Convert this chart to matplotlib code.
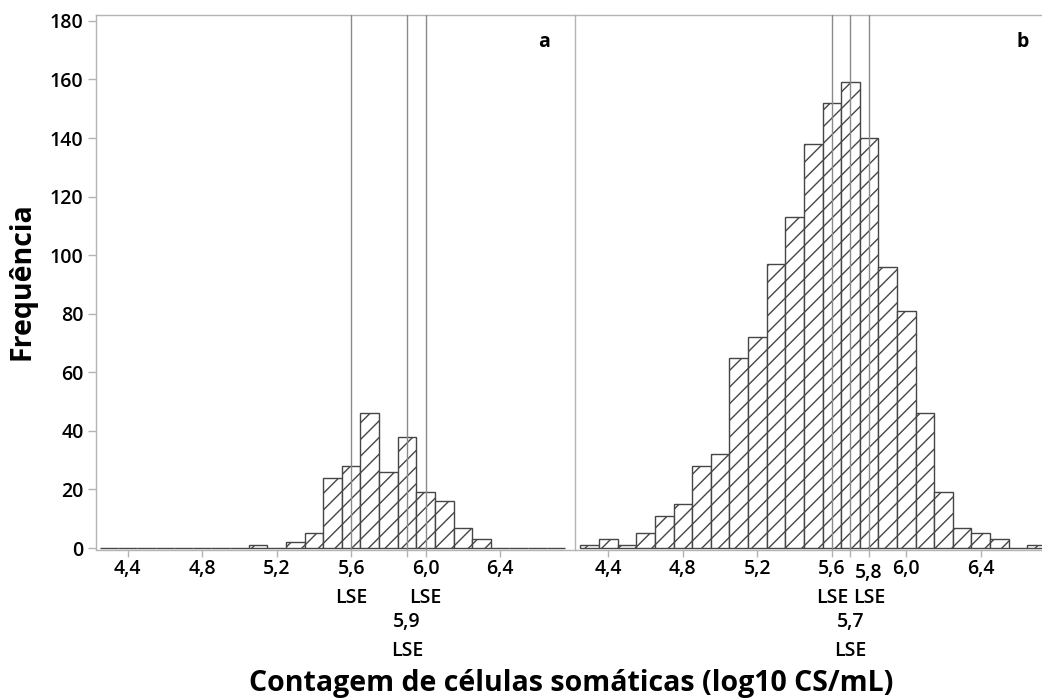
import matplotlib
matplotlib.use("Agg")
import matplotlib.pyplot as plt

plt.rcParams["font.family"] = ["Open Sans", "DejaVu Sans"]
plt.rcParams["hatch.linewidth"] = 1.0

# histogram bins (log10 CS/mL), width 0.1
bin_centers = [4.3, 4.4, 4.5, 4.6, 4.7, 4.8, 4.9, 5.0, 5.1, 5.2, 5.3, 5.4, 5.5,
               5.6, 5.7, 5.8, 5.9, 6.0, 6.1, 6.2, 6.3, 6.4, 6.5, 6.6, 6.7]
freq_a = [0, 0, 0, 0, 0, 0, 0, 0, 1, 0, 2, 5, 24,
          28, 46, 26, 38, 19, 16, 7, 3, 0, 0, 0, 0]
freq_b = [1, 3, 1, 5, 11, 15, 28, 32, 65, 72, 97, 113, 138,
          152, 159, 140, 96, 81, 46, 19, 7, 5, 3, 0, 1]

# LSE reference lines
lse_a = [5.6, 5.9, 6.0]
lse_b = [5.6, 5.7, 5.8]
lse_low_a = [5.9]   # labels pushed to a second row
lse_low_b = [5.7]

x_ticks = [4.4, 4.8, 5.2, 5.6, 6.0, 6.4]
y_ticks = list(range(0, 181, 20))

FRAME = "#b4b4b4"
EDGE = "#464646"
REF = "#8a8a8a"
FW = "semibold"
FS = 14


def fmt(v):
    return f"{v:.1f}".replace(".", ",")


fig = plt.figure(figsize=(10.42, 7.0), dpi=100)
W, H = 1042, 700
pw = 479
ax_a = fig.add_axes([96 / W, (H - 549.5) / H, pw / W, 534.5 / H])
ax_b = fig.add_axes([575 / W, (H - 549.5) / H, pw / W, 534.5 / H], sharey=ax_a)


def draw_panel(ax, freq, lse, lse_low, tag, xmin):
    ax.bar(bin_centers, freq, width=0.1, color="white", edgecolor=EDGE,
           linewidth=1.0, hatch="//", zorder=2)
    for v in lse:
        ax.axvline(v, color=REF, linewidth=1.0, zorder=3)
    ax.set_xlim(xmin, xmin + 2.572)
    ax.set_ylim(-0.5, 182)

    ax.set_xticks(x_ticks)
    ax.set_xticklabels([fmt(t) for t in x_ticks], fontsize=FS, fontweight=FW)
    extra = [v for v in lse if v not in x_ticks]
    ax.set_xticks(extra, minor=True)
    ax.tick_params(axis="x", which="both", length=5, width=1, color=FRAME, pad=2)

    for v in lse:
        low = v in lse_low
        if low:
            ax.annotate(fmt(v), xy=(v, 0), xycoords=("data", "axes fraction"),
                        xytext=(0, -52), textcoords="offset points",
                        ha="center", va="center", fontsize=FS, fontweight=FW)
        elif v not in x_ticks:
            ax.annotate(fmt(v), xy=(v, 0), xycoords=("data", "axes fraction"),
                        xytext=(0, -17), textcoords="offset points",
                        ha="center", va="center", fontsize=FS, fontweight=FW)
        ax.annotate("LSE", xy=(v, 0), xycoords=("data", "axes fraction"),
                    xytext=(0, -73 if low else -35), textcoords="offset points",
                    ha="center", va="center", fontsize=FS, fontweight=FW)

    for s in ax.spines.values():
        s.set_color(FRAME)
        s.set_linewidth(1.0)
    ax.text(0.935, 0.95, tag, transform=ax.transAxes, ha="center", va="center",
            fontsize=14, fontweight="bold")


draw_panel(ax_a, freq_a, lse_a, lse_low_a, "a", 4.23)
draw_panel(ax_b, freq_b, lse_b, lse_low_b, "b", 4.221)

ax_a.spines["right"].set_visible(False)
ax_a.set_yticks(y_ticks)
ax_a.set_yticklabels([str(t) for t in y_ticks], fontsize=FS, fontweight=FW)
ax_a.tick_params(axis="y", length=6, width=1, color=FRAME, pad=3)
ax_b.tick_params(axis="y", left=False, labelleft=False)

fig.text(571 / W, 1 - 684 / H, "Contagem de células somáticas (log10 CS/mL)",
         ha="center", va="center", fontsize=20.5, fontweight="bold")
fig.text(22 / W, 1 - 281 / H, "Frequência", rotation=90,
         ha="center", va="center", fontsize=20.5, fontweight="bold")

fig.savefig("out.png", dpi=100)
